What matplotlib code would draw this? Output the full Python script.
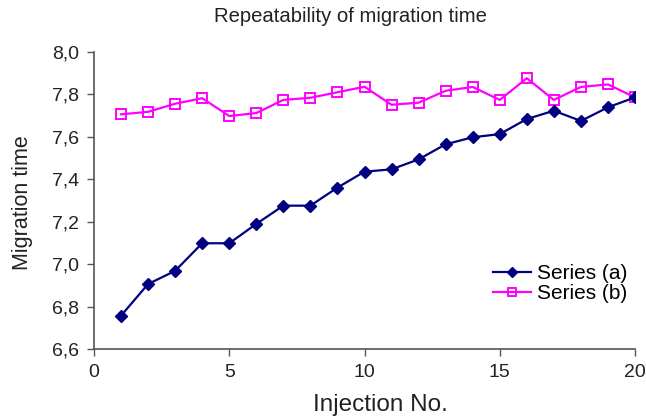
import matplotlib
matplotlib.use("Agg")
import matplotlib.pyplot as plt
from matplotlib.ticker import FuncFormatter

plt.rcParams['font.family'] = ['Liberation Sans', 'DejaVu Sans']

injection = list(range(1, 21))
series_a = [6.757, 6.906, 6.968, 7.098, 7.098, 7.189, 7.275, 7.275, 7.360, 7.435,
            7.446, 7.493, 7.564, 7.597, 7.612, 7.683, 7.722, 7.674, 7.738, 7.785]
series_b = [7.705, 7.717, 7.755, 7.781, 7.697, 7.711, 7.773, 7.783, 7.809, 7.835,
            7.750, 7.760, 7.816, 7.834, 7.773, 7.875, 7.773, 7.834, 7.846, 7.785]
x_ticks = [0, 5, 10, 15, 20]
y_ticks = [6.6, 6.8, 7.0, 7.2, 7.4, 7.6, 7.8, 8.0]

W, H = 646, 416
fig = plt.figure(figsize=(W / 100, H / 100), dpi=100)
ax = fig.add_axes([94 / W, 1 - 349 / H, (635 - 94) / W, (349 - 51.7) / H])

ax.plot(injection, series_a, color='#000080', marker='D', markersize=6.5,
        linewidth=1.6, label='Series (a)', zorder=3)
ax.plot(injection, series_b, color='#FF00FF', marker='s', markersize=7.5,
        markerfacecolor='none', markeredgewidth=1.4, linewidth=1.6,
        label='Series (b)', zorder=2)

ax.set_xlim(0, 20)
ax.set_ylim(6.6, 8.0)
ax.set_xticks(x_ticks)
ax.set_yticks(y_ticks)
ax.yaxis.set_major_formatter(FuncFormatter(lambda v, p: f"{v:.1f}".replace('.', ',')))

for side in ('top', 'right'):
    ax.spines[side].set_visible(False)
for side in ('left', 'bottom'):
    ax.spines[side].set_color('#555555')
    ax.spines[side].set_linewidth(1.2)
ax.tick_params(direction='out', length=5, width=1.0, color='#555555',
               labelsize=14, labelcolor='#222222', pad=6)

ax.set_xlabel('Injection No.', fontsize=17.5, color='#222222')
ax.xaxis.set_label_coords(0.529, -0.152)
ax.set_ylabel('Migration time', fontsize=15.5, color='#222222')
ax.yaxis.set_label_coords(-0.113, 0.491)
fig.text(350 / W, 1 - 16 / H, 'Repeatability of migration time', ha='center',
         va='center', fontsize=14.6, color='#222222')

ax.legend(loc='lower right', bbox_to_anchor=(1.009, 0.113), frameon=False,
          fontsize=15, handlelength=1.8, handletextpad=0.3, labelspacing=0.05,
          borderaxespad=0.2, markerscale=0.75)

fig.savefig('out.png', dpi=100)
